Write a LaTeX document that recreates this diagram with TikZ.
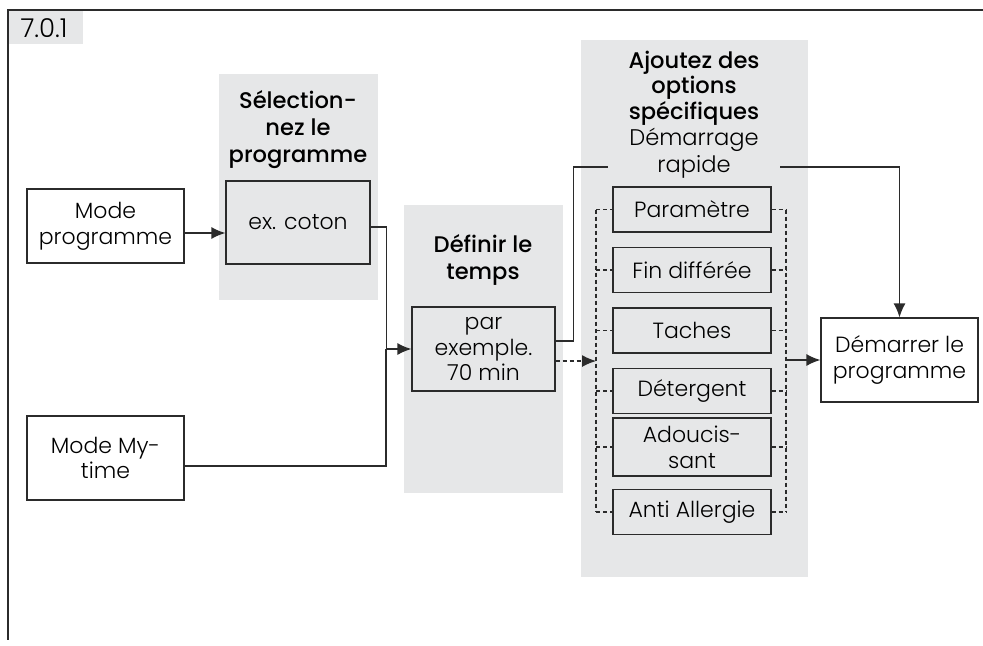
\documentclass[tikz,border=0pt]{standalone}
\usepackage{fontspec}
\setmainfont{Poppins}[UprightFont=* Light, BoldFont=* Medium]
\usetikzlibrary{arrows.meta}
\definecolor{panelgray}{HTML}{E6E7E8}
\definecolor{linegray}{HTML}{2B2B2B}
\tikzset{
  stepbox/.style={draw=linegray, line width=0.6pt, fill=white, align=center, inner sep=0pt, font=\fontsize{11}{12.8}\selectfont},
  optbox/.style={stepbox, fill=panelgray, minimum width=79pt, minimum height=22.5pt},
  head/.style={align=center, inner sep=0pt, font=\bfseries\fontsize{11.3}{13.5}\selectfont},
  link/.style={draw=linegray, line width=0.7pt},
  optlink/.style={link, line width=0.6pt, dash pattern=on 2pt off 1.5pt}
}
\begin{document}
\begin{tikzpicture}[x=0.5pt, y=-0.5pt, >={Latex[length=7pt,width=6pt]}]
\useasboundingbox (0,0) rectangle (983,645);
% frame and number
\fill[panelgray] (7,10) rectangle (83,44);
\node[font=\fontsize{13}{14}\selectfont] (num) at (44,28) {7.0.1};
\draw[linegray, line width=0.6pt] (983,10) -- (8,10) -- (8,640);
% grey panels
\fill[panelgray] (219,74) rectangle (378,300);
\fill[panelgray] (404,205) rectangle (563,493);
\fill[panelgray] (581,40) rectangle (808,577);
\node[head] (selhead) at (298,130) {Sélection-\\nez le\\programme};
\node[head] (defhead) at (483,260) {Définir le\\temps};
\node[head, font=\bfseries\fontsize{11.3}{12.8}\selectfont] (ajhead) at (694,88) {Ajoutez des\\options\\spécifiques};
\node[align=center, inner sep=0pt, font=\fontsize{11.3}{13.5}\selectfont] (rapide) at (694,153) {Démarrage\\rapide};
% steps
\node[stepbox, minimum width=78.5pt, minimum height=37pt] (mode) at (105.5,226) {Mode\\programme};
\node[stepbox, fill=panelgray, minimum width=72pt, minimum height=41.5pt] (coton) at (298,222.5) {ex. coton};
\node[stepbox, fill=panelgray, minimum width=71.5pt, minimum height=42pt] (par) at (483.5,349) {par\\exemple.\\70 min};
\node[stepbox, minimum width=78.5pt, minimum height=42pt] (mytime) at (105.5,458) {Mode My-\\time};
\node[stepbox, minimum width=78.5pt, minimum height=42pt] (demarrer) at (899.5,360) {Démarrer le\\programme};
% options
\node[optbox] (param) at (692,209.5) {Paramètre};
\node[optbox] (fin) at (692,270) {Fin différée};
\node[optbox] (taches) at (692,330.5) {Taches};
\node[optbox] (deter) at (692,391) {Détergent};
\node[optbox, minimum height=29pt] (adouc) at (692,447) {Adoucis-\\sant};
\node[optbox] (anti) at (692,512) {Anti Allergie};
\coordinate (lt) at (596,209.5); \coordinate (lb) at (596,512);
\coordinate (rt) at (786,209.5); \coordinate (rb) at (786,512);
\coordinate (join) at (386,349);
\coordinate (gapl) at (608,167); \coordinate (gapr) at (780,167);
% connectors
\draw[link, ->] ([yshift=-3.5pt]mode.east) -- ([yshift=-3.5pt]mode.east -| coton.west);
\draw[link, ->] ([yshift=-2.25pt]coton.east) -- ++(16,0) |- (par.west);
\draw[link] ([yshift=-4pt]mytime.east) -| (join);
\draw[link] ([yshift=4pt]par.east) -- ++(18,0) |- (gapl);
\draw[link, ->] (gapr) -| (demarrer.north);
\draw[optlink, ->] ([yshift=-6pt]par.east) -- ([yshift=-6pt]par.east -| lt);
\draw[optlink] (lt) -- (lb); \draw[optlink] (rt) -- (rb);
\foreach \n in {param,fin,taches,deter,adouc,anti}
  \draw[optlink] (\n.west -| lt) -- (\n.west) (\n.east) -- (\n.east -| rt);
\draw[link, ->] (demarrer.west -| rt) -- (demarrer.west);
\end{tikzpicture}
\end{document}
